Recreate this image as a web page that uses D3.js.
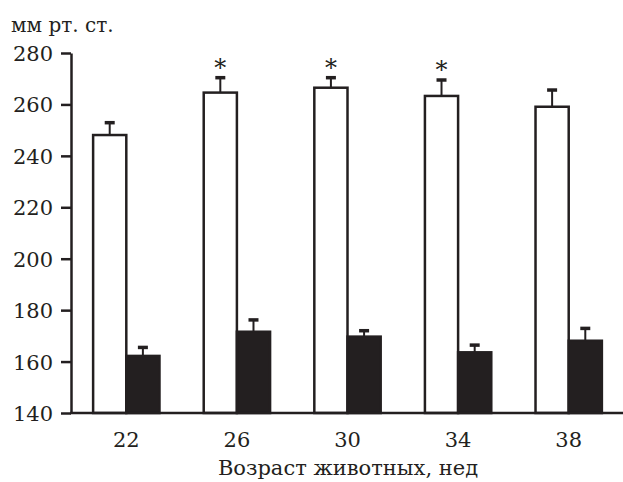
<!DOCTYPE html>
<html>
<head>
<meta charset="utf-8">
<script src="https://cdn.jsdelivr.net/npm/d3@7"></script>
<style>
  body { margin: 0; background: #fff; }
  svg { display: block; }
  svg text { font-family: "DejaVu Serif", serif; }
</style>
</head>
<body>
<svg id="chart" width="623" height="482"></svg>
<script>
// data
var weeks = ["22", "26", "30", "34", "38"];
var whiteVals = [248.1, 264.6, 266.5, 263.3, 259.1];
var whiteErr = [4.8, 5.8, 3.9, 6.2, 6.5];
var blackVals = [162.2, 171.6, 169.7, 163.6, 168.1];
var blackErr = [3.3, 4.6, 2.3, 2.8, 4.8];
var starred = [false, true, true, true, false];
var yTicks = [140, 160, 180, 200, 220, 240, 260, 280];

var ink = "#231f20";
var fnt = "DejaVu Serif, serif";
var svg = d3.select("#chart");

var y = d3.scaleLinear().domain([140, 280]).range([413, 53]);
var x = d3.scaleBand().domain(weeks).range([71, 624]).paddingInner(0.4).paddingOuter(0.2);
var sub = d3.scaleBand().domain(["w", "b"]).range([0, x.bandwidth()]);

// y axis
var yAxis = svg.append("g")
    .attr("transform", "translate(71,0)")
    .call(d3.axisLeft(y).tickValues(yTicks).tickSize(10).tickPadding(8).tickSizeOuter(0));
yAxis.attr("font-family", fnt).attr("font-size", 21);
yAxis.select(".domain").attr("stroke", ink).attr("stroke-width", 2.5);
yAxis.selectAll(".tick line").attr("stroke", ink).attr("stroke-width", 2.5);
yAxis.selectAll(".tick text").attr("fill", ink).attr("dy", "0.36em");

// build rows for bars
var rows = [];
weeks.forEach(function (w, i) {
    rows.push({ wk: w, key: "w", v: whiteVals[i], e: whiteErr[i], star: starred[i] });
    rows.push({ wk: w, key: "b", v: blackVals[i], e: blackErr[i], star: false });
});

function bx(d) { return x(d.wk) + sub(d.key); }

// error bars (drawn first, bar sits on top)
var eb = svg.append("g");
eb.selectAll("line.stem").data(rows).enter().append("line")
    .attr("x1", function (d) { return bx(d) + sub.bandwidth() / 2; })
    .attr("x2", function (d) { return bx(d) + sub.bandwidth() / 2; })
    .attr("y1", function (d) { return y(d.v); })
    .attr("y2", function (d) { return y(d.v + d.e); })
    .attr("stroke", ink).attr("stroke-width", 2);
eb.selectAll("line.cap").data(rows).enter().append("line")
    .attr("x1", function (d) { return bx(d) + sub.bandwidth() / 2 - 5; })
    .attr("x2", function (d) { return bx(d) + sub.bandwidth() / 2 + 5; })
    .attr("y1", function (d) { return y(d.v + d.e); })
    .attr("y2", function (d) { return y(d.v + d.e); })
    .attr("stroke", ink).attr("stroke-width", 3.5);

// bars
svg.append("g").selectAll("rect").data(rows).enter().append("rect")
    .attr("x", function (d) { return bx(d); })
    .attr("y", function (d) { return y(d.v); })
    .attr("width", sub.bandwidth())
    .attr("height", function (d) { return y(140) - y(d.v); })
    .attr("fill", function (d) { return d.key == "w" ? "#fff" : ink; })
    .attr("stroke", ink).attr("stroke-width", 2.5);

// asterisks
svg.append("g").selectAll("text").data(rows.filter(function (d) { return d.star; })).enter().append("text")
    .attr("x", function (d) { return bx(d) + sub.bandwidth() / 2; })
    .attr("y", function (d) { return y(d.v + d.e) - 2; })
    .attr("text-anchor", "middle")
    .attr("fill", ink).attr("font-size", 24)
    .text("*");

// x axis line, no ticks
svg.append("line")
    .attr("x1", 70).attr("x2", 623)
    .attr("y1", y(140)).attr("y2", y(140))
    .attr("stroke", ink).attr("stroke-width", 2.5);

// x labels
svg.append("g").selectAll("text").data(weeks).enter().append("text")
    .attr("x", function (d) { return x(d) + x.bandwidth() / 2; })
    .attr("y", 447)
    .attr("text-anchor", "middle")
    .attr("fill", ink).attr("font-size", 21)
    .text(function (d) { return d; });

svg.append("text")
    .attr("x", 348).attr("y", 475)
    .attr("text-anchor", "middle")
    .attr("fill", ink).attr("font-size", 21)
    .text("Возраст животных, нед");

svg.append("text")
    .attr("x", 11).attr("y", 32)
    .attr("fill", ink).attr("font-size", 20)
    .text("мм рт. ст.");
</script>
</body>
</html>
